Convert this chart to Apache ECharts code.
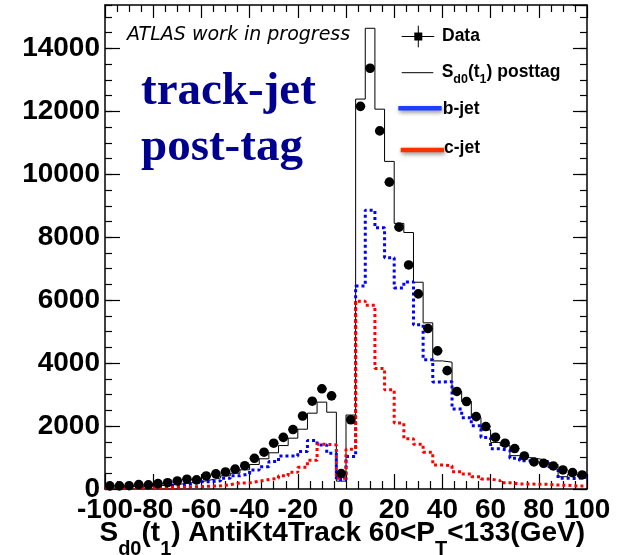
<!DOCTYPE html>
<html><head><meta charset="utf-8">
<script src="https://cdn.jsdelivr.net/npm/echarts@6/dist/echarts.min.js"></script>
<style>html,body{margin:0;padding:0;background:#fff}#c{width:628px;height:555px}</style>
</head><body><div id="c"></div>
<script>
// ---- data ----
const binWidth = 4;
const binCenters = [-98,-94,-90,-86,-82,-78,-74,-70,-66,-62,-58,-54,-50,-46,-42,-38,-34,-30,-26,-22,-18,-14,-10,-6,-2,
  2,6,10,14,18,22,26,30,34,38,42,46,50,54,58,62,66,70,74,78,82,86,90,94,98];
const dataCounts = [100,100,105,140,130,170,200,255,310,290,415,480,540,630,740,975,1170,1455,1640,1890,2320,2790,3185,2960,490,
  2200,12160,13370,11380,9750,8320,7120,6200,5100,4390,3760,3100,2780,2300,1985,1645,1455,1285,1050,860,817,732,605,520,446];
const mcPosttag = [60,70,75,85,95,110,130,160,200,230,290,350,420,500,610,780,960,1150,1380,1615,1900,2410,2760,2440,250,
  2350,12390,14640,12070,10410,8440,8150,6570,5280,4070,4030,3100,2780,2270,1880,1480,1380,1060,1000,960,900,780,390,470,390];
const bJet = [40,40,50,60,70,90,110,130,170,230,230,260,340,420,480,605,710,870,1050,1050,1190,1540,1400,1135,300,
  1030,6450,8860,8300,7350,6390,6580,5220,4110,3400,3410,2545,2265,2010,1640,1280,1220,977,900,900,838,710,340,330,390];
const cJet = [30,30,30,35,40,45,50,60,70,80,90,100,140,190,195,250,300,340,420,530,690,910,1420,1400,340,
  1265,5970,5840,3830,3150,2100,1600,1420,1170,765,740,550,478,390,318,265,200,160,160,150,150,127,117,96,96];
const xTickLabels = [-100,-80,-60,-40,-20,0,20,40,60,80,100];
const yTickLabels = [0,2000,4000,6000,8000,10000,12000,14000];
const xMin = -100, xMax = 100, yMax = 15380;

// ---- build ----
function stepData(vals) {
  const pts = vals.map((v, i) => [binCenters[i] - binWidth / 2, v]);
  pts.push([binCenters[binCenters.length - 1] + binWidth / 2, vals[vals.length - 1]]);
  return pts;
}
const FONT = '"Liberation Sans", Arial, sans-serif';
const chart = echarts.init(document.getElementById('c'), null, {renderer: 'canvas'});

const frameLine = {show: true, onZero: false, lineStyle: {color: '#000', width: 1.5}};
function xAxisDef(pos, majorLen, minorLen, labels) {
  return {
    type: 'value', position: pos, min: xMin, max: xMax,
    interval: xTickLabels[1] - xTickLabels[0],
    axisLine: frameLine,
    axisTick: {show: true, inside: true, length: majorLen, lineStyle: {color: '#000', width: 1.2}},
    minorTick: {show: true, splitNumber: 4, length: minorLen, lineStyle: {color: '#000', width: 1.2}},
    splitLine: {show: false}, minorSplitLine: {show: false},
    axisLabel: labels ? {show: true, color: '#000', fontFamily: FONT, fontWeight: 'bold', fontSize: 28, margin: 7,
      formatter: v => String(v)} : {show: false}
  };
}
function yAxisDef(pos, interval, len, labels, line) {
  return {
    type: 'value', position: pos, min: 0, max: yMax, interval: interval,
    axisLine: line ? frameLine : {show: false, onZero: false},
    axisTick: {show: true, inside: true, length: len, lineStyle: {color: '#000', width: 1.2}},
    splitLine: {show: false},
    axisLabel: labels ? {show: true, color: '#000', fontFamily: FONT, fontWeight: 'bold', fontSize: 28, margin: 5,
      showMaxLabel: false, formatter: v => String(v)} : {show: false}
  };
}

const dataSeries = {
  type: 'custom', xAxisIndex: 0, yAxisIndex: 0, z: 10,
  data: binCenters.map((c, i) => [c, dataCounts[i]]),
  renderItem: function (params, api) {
    const x = api.value(0), y = api.value(1);
    const p = api.coord([x, y]);
    const pl = api.coord([x - binWidth / 2, y]);
    const pr = api.coord([x + binWidth / 2, y]);
    return {type: 'group', children: [
      {type: 'line', shape: {x1: pl[0], y1: p[1], x2: pr[0], y2: p[1]}, style: {stroke: '#000', lineWidth: 1}},
      {type: 'circle', shape: {cx: p[0], cy: p[1], r: 4.8}, style: {fill: '#000'}}
    ]};
  }
};

function histSeries(vals, color, width, dash, z) {
  return {type: 'line', step: 'end', symbol: 'none', xAxisIndex: 0, yAxisIndex: 0, z: z,
    data: stepData(vals), animation: false,
    lineStyle: {color: color, width: width, type: dash}};
}

const txt = (x, y, text, font, extra) => ({type: 'text', x: x, y: y, z: 100,
  style: Object.assign({text: text, font: font, fill: '#000', align: 'left', verticalAlign: 'middle'}, extra || {})});
const ln = (x1, y1, x2, y2, stroke, w, extra) => ({type: 'line', z: 100,
  shape: {x1: x1, y1: y1, x2: x2, y2: y2}, style: Object.assign({stroke: stroke, lineWidth: w}, extra || {})});

const legFont = 'bold 17.5px ' + FONT;
const option = {
  animation: false,
  backgroundColor: '#fff',
  grid: {left: 105, top: 5, right: 41, bottom: 66, containLabel: false},
  xAxis: [xAxisDef('bottom', 15, 8, true), xAxisDef('top', 13, 7, false)],
  yAxis: [
    yAxisDef('left', yTickLabels[1] - yTickLabels[0], 15, true, true),
    yAxisDef('left', 500, 7, false, false),
    yAxisDef('right', yTickLabels[1] - yTickLabels[0], 14, false, true),
    yAxisDef('right', 500, 7, false, false)
  ],
  series: [
    histSeries(mcPosttag, '#000', 1, 'solid', 2),
    histSeries(bJet, '#0000ff', 3, [3, 3], 3),
    histSeries(cJet, '#ff0000', 3, [3, 3], 4),
    dataSeries
  ],
  graphic: [
    txt(127, 35.5, 'ATLAS work in progress', 'italic 19px "DejaVu Sans", sans-serif'),
    txt(141, 92, 'track-jet', 'bold 47px "Liberation Serif", "Times New Roman", serif', {fill: '#000090'}),
    txt(141, 148, 'post-tag', 'bold 47px "Liberation Serif", "Times New Roman", serif', {fill: '#000090'}),
    // legend
    ln(401.7, 36.5, 434.3, 36.5, '#000', 1),
    ln(418.3, 25.7, 418.3, 47.3, '#000', 1),
    {type: 'rect', z: 100, shape: {x: 414.3, y: 32.5, width: 8, height: 8}, style: {fill: '#000'}},
    txt(442, 36.5, 'Data', legFont),
    ln(401.7, 72.7, 433.3, 72.7, '#000', 1),
    {type: 'text', x: 441.7, y: 57.2, z: 100, style: {
      text: '{m|S}{s|d0}{m|(t}{s|1}{m|) posttag}', verticalAlign: 'top', align: 'left', fill: '#000',
      rich: {
        m: {fontFamily: FONT, fontWeight: 'bold', fontSize: 17.5, lineHeight: 29, fill: '#000'},
        s: {fontFamily: FONT, fontWeight: 'bold', fontSize: 12.5, lineHeight: 12, verticalAlign: 'bottom', fill: '#000'}
      }}},
    ln(398.3, 108.3, 441.7, 108.3, '#1a40ff', 4.5, {shadowBlur: 4, shadowColor: 'rgba(0,0,0,0.45)', shadowOffsetY: 2, shadowOffsetX: 1}),
    txt(442.7, 109, 'b-jet', legFont),
    ln(400.7, 150, 444, 150, '#ff3000', 4.5, {shadowBlur: 4, shadowColor: 'rgba(0,0,0,0.45)', shadowOffsetY: 2, shadowOffsetX: 1}),
    txt(444, 148, 'c-jet', legFont),
    // x title
    {type: 'text', x: 585, y: 507, z: 100, style: {
      text: '{m|S}{s|d0}{m|(t}{s|1}{m|) AntiKt4Track 60<P}{s|T}{m|<133(GeV)}',
      verticalAlign: 'top', align: 'right', fill: '#000',
      rich: {
        m: {fontFamily: FONT, fontWeight: 'bold', fontSize: 28, lineHeight: 52, fill: '#000'},
        s: {fontFamily: FONT, fontWeight: 'bold', fontSize: 20, lineHeight: 20, verticalAlign: 'bottom', fill: '#000'}
      }}}
  ]
};
chart.setOption(option);
</script>
</body></html>
